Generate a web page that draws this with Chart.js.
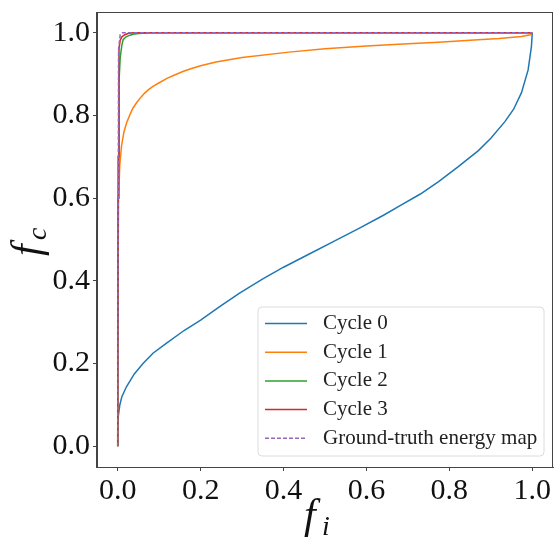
<!DOCTYPE html>
<html>
<head>
<meta charset="utf-8">
<script src="https://cdn.jsdelivr.net/npm/chart.js@4.4.1/dist/chart.umd.min.js"></script>
<style>
  body { margin: 0; background: #fff; }
  #wrap { width: 556px; height: 541px; }
</style>
</head>
<body>
<div id="wrap"><canvas id="chart" width="556" height="541"></canvas></div>
<script>
// tick labels
const xTicks = [0.0, 0.2, 0.4, 0.6, 0.8, 1.0];
const yTicks = [0.0, 0.2, 0.4, 0.6, 0.8, 1.0];

const seriesNames = ['Cycle 0', 'Cycle 1', 'Cycle 2', 'Cycle 3', 'Ground-truth energy map'];

// Cycle 0
const cycle0X = [0, 0.0, 0.001, 0.005, 0.01, 0.021, 0.04, 0.061, 0.085, 0.117, 0.16, 0.2, 0.245, 0.293, 0.35, 0.4, 0.462, 0.52, 0.582, 0.64, 0.678, 0.73, 0.774, 0.82, 0.87, 0.9, 0.934, 0.955, 0.974, 0.99, 0.998, 1.0];
const cycle0Y = [0, 0.04, 0.07, 0.1, 0.12, 0.144, 0.175, 0.2, 0.225, 0.249, 0.28, 0.305, 0.337, 0.37, 0.405, 0.433, 0.465, 0.495, 0.527, 0.558, 0.58, 0.61, 0.64, 0.675, 0.715, 0.745, 0.785, 0.815, 0.855, 0.91, 0.967, 1.0];
// Cycle 1
const cycle1X = [0, 0.0, 0.002, 0.005, 0.009, 0.015, 0.021, 0.03, 0.037, 0.045, 0.055, 0.065, 0.075, 0.085, 0.1, 0.12, 0.14, 0.157, 0.18, 0.2, 0.237, 0.3, 0.413, 0.5, 0.6, 0.7, 0.774, 0.85, 0.92, 0.974, 0.995, 1.0];
const cycle1Y = [0, 0.3, 0.6, 0.68, 0.725, 0.76, 0.781, 0.803, 0.818, 0.83, 0.843, 0.854, 0.863, 0.87, 0.879, 0.89, 0.899, 0.906, 0.914, 0.92, 0.929, 0.94, 0.953, 0.961, 0.968, 0.973, 0.977, 0.982, 0.986, 0.991, 0.995, 1.0];
// Cycle 2
const cycle2X = [0, 0.001, 0.003, 0.006, 0.01, 0.013, 0.02, 0.03, 0.037, 0.05, 0.08, 1.0];
const cycle2Y = [0, 0.6, 0.88, 0.94, 0.97, 0.983, 0.99, 0.994, 0.996, 0.998, 1.0, 1.0];
// Cycle 3
const cycle3X = [0, 0.001, 0.003, 0.006, 0.01, 0.017, 0.025, 0.037, 1.0];
const cycle3Y = [0, 0.7, 0.96, 0.982, 0.99, 0.995, 0.998, 1.0, 1.0];
// Ground truth
const truthX = [0, 0.002, 0.006, 0.012, 1.0];
const truthY = [0, 0.96, 0.995, 1.0, 1.0];

const colors = ['#1f77b4', '#ff7f0e', '#2ca02c', '#d62728', '#9467bd'];

function pts(xs, ys) {
    return xs.map((x, i) => ({ x: x, y: ys[i] }));
}

const allX = [cycle0X, cycle1X, cycle2X, cycle3X, truthX];
const allY = [cycle0Y, cycle1Y, cycle2Y, cycle3Y, truthY];

const datasets = seriesNames.map((name, i) => ({
    label: name,
    data: pts(allX[i], allY[i]),
    borderColor: colors[i],
    backgroundColor: colors[i],
    borderWidth: 1.5,
    borderDash: i === 4 ? [4, 2] : [],
    pointRadius: 0,
    tension: 0,
    fill: false,
    order: 5 - i
}));

const SERIF = '"Liberation Serif", "DejaVu Serif", serif';

// frame, axis titles and legend
const extras = {
    id: 'extras',
    afterDraw(chart) {
        const ctx = chart.ctx;
        const a = chart.chartArea;
        ctx.save();
        ctx.strokeStyle = '#444';
        ctx.lineWidth = 1;
        ctx.strokeRect(Math.round(a.left) - 0.5, Math.round(a.top) + 0.5, Math.round(a.right - a.left), Math.round(a.bottom - a.top));

        // y title f_c
        ctx.fillStyle = '#111';
        ctx.save();
        ctx.translate(40, 240);
        ctx.rotate(-Math.PI / 2);
        ctx.textBaseline = 'alphabetic';
        ctx.textAlign = 'left';
        ctx.font = 'italic 42px ' + SERIF;
        ctx.fillText('f', -16, 0);
        ctx.font = 'italic 28px ' + SERIF;
        ctx.fillText('c', 0, 6);
        ctx.restore();

        // x title f_i
        ctx.textBaseline = 'alphabetic';
        ctx.textAlign = 'left';
        ctx.font = 'italic 42px ' + SERIF;
        ctx.fillText('f', 304, 528);
        ctx.font = 'italic 28px ' + SERIF;
        ctx.fillText('i', 322, 535);

        // legend
        const lx = 258, ly = 307, lw = 286, lh = 149, r = 4;
        ctx.beginPath();
        ctx.moveTo(lx + r, ly);
        ctx.arcTo(lx + lw, ly, lx + lw, ly + lh, r);
        ctx.arcTo(lx + lw, ly + lh, lx, ly + lh, r);
        ctx.arcTo(lx, ly + lh, lx, ly, r);
        ctx.arcTo(lx, ly, lx + lw, ly, r);
        ctx.closePath();
        ctx.fillStyle = 'rgba(255,255,255,0.8)';
        ctx.fill();
        ctx.strokeStyle = '#dcdcdc';
        ctx.lineWidth = 1;
        ctx.stroke();

        ctx.font = '21px ' + SERIF;
        ctx.textBaseline = 'middle';
        chart.data.datasets.forEach((ds, i) => {
            const y = ly + 16.5 + i * 28.7;
            ctx.beginPath();
            ctx.strokeStyle = ds.borderColor;
            ctx.lineWidth = 1.5;
            ctx.setLineDash(ds.borderDash);
            ctx.moveTo(265, y);
            ctx.lineTo(307, y);
            ctx.stroke();
            ctx.setLineDash([]);
            ctx.fillStyle = '#222';
            ctx.fillText(ds.label, 323, y);
        });
        ctx.restore();
    }
};

new Chart(document.getElementById('chart'), {
    type: 'line',
    data: { datasets: datasets },
    options: {
        responsive: false,
        animation: false,
        layout: { padding: { left: 0, top: 12, right: 3, bottom: 0 } },
        plugins: { legend: { display: false }, tooltip: { enabled: false } },
        scales: {
            x: {
                type: 'linear',
                min: -0.05,
                max: 1.05,
                afterBuildTicks: s => { s.ticks = xTicks.map(v => ({ value: v })); },
                afterFit: s => { s.height = 74; s.paddingLeft = 0; s.paddingRight = 0; },
                grid: { display: true, drawOnChartArea: false, drawTicks: true, tickLength: 4, color: '#444' },
                border: { display: true, color: '#444' },
                ticks: {
                    padding: 2,
                    maxRotation: 0,
                    color: '#111',
                    font: { family: SERIF, size: 30 },
                    callback: v => v.toFixed(1)
                }
            },
            y: {
                type: 'linear',
                min: -0.05,
                max: 1.05,
                afterBuildTicks: s => { s.ticks = yTicks.map(v => ({ value: v })); },
                afterFit: s => { s.width = 97; s.paddingTop = 0; s.paddingBottom = 0; },
                grid: { display: true, drawOnChartArea: false, drawTicks: true, tickLength: 4, color: '#444' },
                border: { display: true, color: '#444' },
                ticks: {
                    padding: 3,
                    color: '#111',
                    font: { family: SERIF, size: 30 },
                    callback: v => v.toFixed(1)
                }
            }
        }
    },
    plugins: [extras]
});
</script>
</body>
</html>
